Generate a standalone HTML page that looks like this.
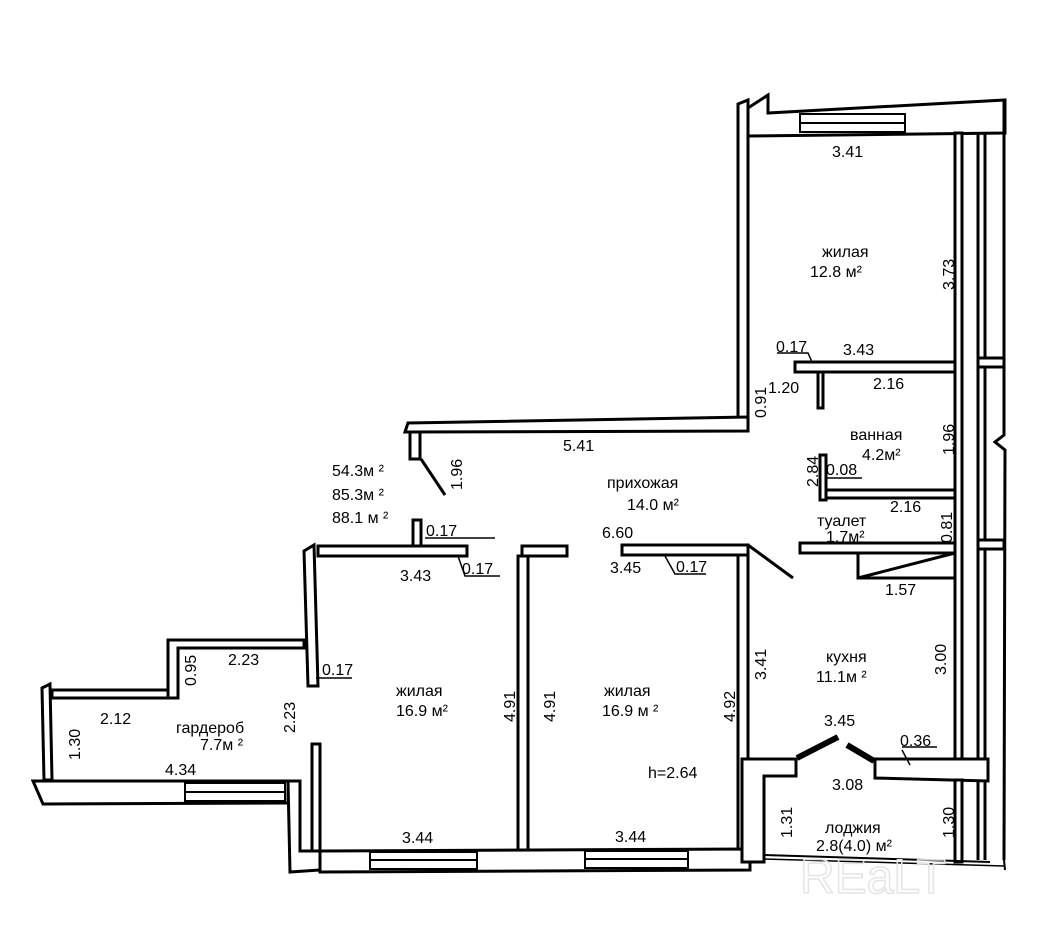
<!DOCTYPE html>
<html><head><meta charset="utf-8"><style>
html,body{margin:0;padding:0;background:#fff;}
svg{display:block;}
text{font-family:"Liberation Sans","DejaVu Sans",sans-serif;font-size:16px;fill:#000;}
</style></head><body>
<svg width="1058" height="943" viewBox="0 0 1058 943" xmlns="http://www.w3.org/2000/svg">
<g fill="#fff" stroke="#000" stroke-width="3" stroke-linejoin="miter">
<polygon points="738,104 748,100 748,425 738,425"/>
<polygon points="748,108 768,95 768,113 1005,100 1005,133 748,136"/>
<rect x="955" y="133" width="7" height="728"/>
<polyline points="978,133 978,860" fill="none"/>
<polyline points="985,133 985,860" fill="none"/>
<polyline points="1004,100 1004,435 995,442 1005,450 1004,860" fill="none"/>
<rect x="978" y="358" width="26" height="9"/>
<rect x="978" y="540" width="26" height="9"/>
<rect x="795" y="362" width="160" height="10"/>
<rect x="818" y="372" width="5" height="36"/>
<rect x="820" y="455" width="6" height="45"/>
<rect x="826" y="490" width="129" height="8"/>
<rect x="800" y="543" width="155" height="10"/>
<polygon points="858,553 955,553 955,578 858,578" fill="#fff"/>
<line x1="858" y1="578" x2="955" y2="553"/>
<polygon points="408,423 748,417 748,431 405,432"/>
<rect x="410" y="432" width="10" height="27"/>
<line x1="421" y1="459" x2="445" y2="495"/>
<rect x="318" y="546" width="149" height="10"/>
<rect x="413" y="520" width="8" height="26"/>
<rect x="522" y="546" width="45" height="10"/>
<rect x="622" y="545" width="126" height="10"/>
<line x1="748" y1="545" x2="793" y2="578"/>
<rect x="518" y="556" width="10" height="294"/>
<rect x="738" y="555" width="10" height="295"/>
<polygon points="304,551 314,545 318,686 308,686"/>
<polygon points="168,640 304,640 304,648 178,648 178,698 168,698"/>
<rect x="52" y="690" width="116" height="8"/>
<polygon points="42,688 50,684 52,780 44,780"/>
<polygon points="33,781 288,781 288,803 43,804"/>
<polygon points="288,781 300,781 300,851 320,851 320,870 290,872"/>
<rect x="312" y="744" width="8" height="107"/>
<polygon points="320,851 750,849 750,870 320,872"/>
<polygon points="742,759 796,759 796,776 764,776 764,862 742,862"/>
<polygon points="875,759 988,759 988,781 875,778"/>
<rect x="955" y="780" width="7" height="82"/>
</g>
<g fill="#fff" stroke="#000" stroke-width="2">
<rect x="800" y="114" width="105" height="18"/>
<line x1="800" y1="123" x2="905" y2="123"/>
<rect x="185" y="783" width="100" height="18"/>
<line x1="185" y1="792" x2="285" y2="792"/>
<rect x="370" y="852" width="107" height="17"/>
<line x1="370" y1="860" x2="477" y2="860"/>
<rect x="585" y="851" width="103" height="17"/>
<line x1="585" y1="859" x2="688" y2="859"/>
</g>
<g stroke="#000" fill="none">
<line x1="797" y1="758" x2="838" y2="737" stroke-width="6"/>
<line x1="847" y1="745" x2="874" y2="761" stroke-width="6"/>
<line x1="764" y1="855" x2="990" y2="862" stroke-width="2"/>
<line x1="764" y1="859" x2="1004" y2="866" stroke-width="1.5"/>
<line x1="1004" y1="860" x2="1005" y2="870" stroke-width="2"/>
<polyline points="777,353 808,353 812,362" stroke-width="1.5"/>
<polyline points="425,538 495,538" stroke-width="1.5"/>
<polyline points="458,556 465,576 500,576" stroke-width="1.5"/>
<polyline points="665,556 675,574 706,574" stroke-width="1.5"/>
<polyline points="316,678 352,678" stroke-width="1.5"/>
<polyline points="826,478 862,478" stroke-width="1.5"/>
<polyline points="902,747 937,747" stroke-width="1.5"/>
<line x1="902" y1="750" x2="910" y2="765" stroke-width="1.5"/>
</g>
<text x="832" y="157">3.41</text>
<text x="822" y="257">жилая</text>
<text x="810" y="277">12.8 м²</text>
<text transform="translate(954,290) rotate(-90)">3.73</text>
<text x="776" y="352">0.17</text>
<text x="843" y="355">3.43</text>
<text x="873" y="389">2.16</text>
<text x="768" y="393">1.20</text>
<text transform="translate(766,418) rotate(-90)">0.91</text>
<text x="850" y="440">ванная</text>
<text x="862" y="460">4.2м²</text>
<text transform="translate(954,455) rotate(-90)">1.96</text>
<text transform="translate(818,487) rotate(-90)">2.84</text>
<text x="826" y="475">0.08</text>
<text x="890" y="512">2.16</text>
<text x="817" y="526">туалет</text>
<text x="826" y="542">1.7м²</text>
<text transform="translate(952,543) rotate(-90)">0.81</text>
<text x="885" y="595">1.57</text>
<text x="826" y="662">кухня</text>
<text x="816" y="682">11.1м ²</text>
<text transform="translate(946,675) rotate(-90)">3.00</text>
<text transform="translate(766,680) rotate(-90)">3.41</text>
<text x="563" y="451">5.41</text>
<text transform="translate(462,490) rotate(-90)">1.96</text>
<text x="332" y="476">54.3м ²</text>
<text x="332" y="500">85.3м ²</text>
<text x="332" y="523">88.1 м ²</text>
<text x="607" y="488">прихожая</text>
<text x="627" y="510">14.0 м²</text>
<text x="426" y="536">0.17</text>
<text x="602" y="538">6.60</text>
<text x="400" y="581">3.43</text>
<text x="462" y="574">0.17</text>
<text x="610" y="573">3.45</text>
<text x="676" y="572">0.17</text>
<text x="228" y="665">2.23</text>
<text transform="translate(196,686) rotate(-90)">0.95</text>
<text x="322" y="675">0.17</text>
<text x="100" y="724">2.12</text>
<text x="176" y="733">гардероб</text>
<text x="200" y="750">7.7м ²</text>
<text transform="translate(80,760) rotate(-90)">1.30</text>
<text transform="translate(295,733) rotate(-90)">2.23</text>
<text x="165" y="775">4.34</text>
<text x="396" y="696">жилая</text>
<text x="396" y="716">16.9 м²</text>
<text transform="translate(515,722) rotate(-90)">4.91</text>
<text transform="translate(555,722) rotate(-90)">4.91</text>
<text x="604" y="696">жилая</text>
<text x="602" y="716">16.9 м ²</text>
<text transform="translate(735,722) rotate(-90)">4.92</text>
<text x="648" y="778">h=2.64</text>
<text x="402" y="843">3.44</text>
<text x="615" y="842">3.44</text>
<text x="824" y="726">3.45</text>
<text x="900" y="746">0.36</text>
<text x="832" y="790">3.08</text>
<text transform="translate(792,838) rotate(-90)">1.31</text>
<text x="825" y="833">лоджия</text>
<text x="816" y="851">2.8(4.0) м²</text>
<text transform="translate(954,838) rotate(-90)">1.30</text>
<text x="800" y="893" style="font-size:48px;fill:none;stroke:#e4e4e4;stroke-width:1.5">REaLT</text>
</svg>
</body></html>
